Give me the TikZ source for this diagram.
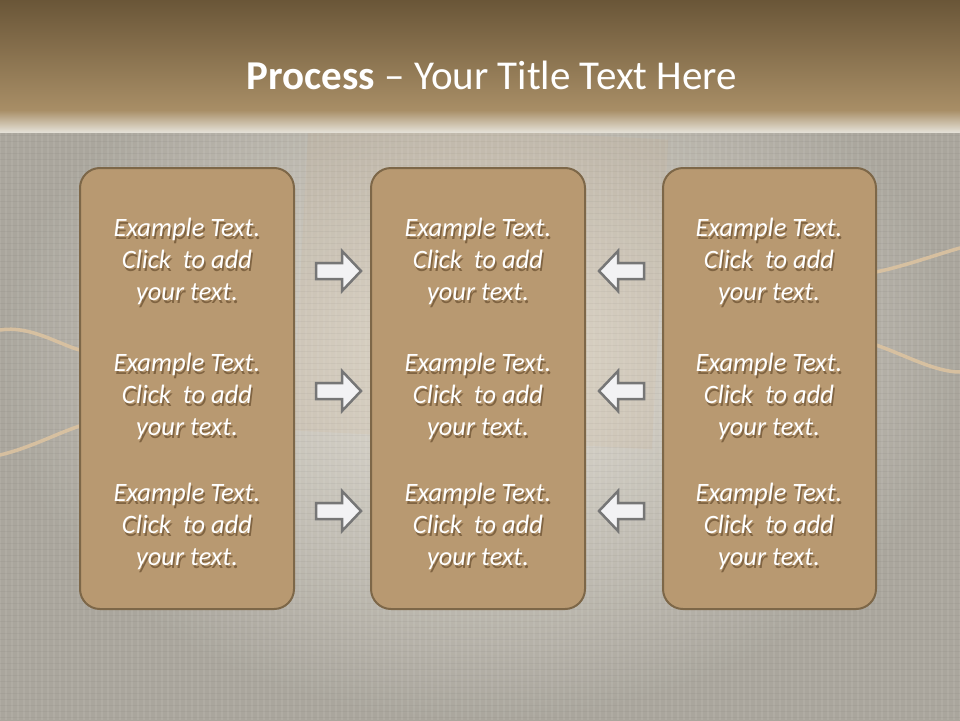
\documentclass[tikz,border=0pt]{standalone}
\usepackage{fontspec}
\setmainfont{Carlito}
\usetikzlibrary{calc}
\definecolor{bgmid}{RGB}{228,224,214}
\definecolor{bgedge}{RGB}{170,166,157}
\definecolor{hdtop}{RGB}{106,86,56}
\definecolor{hdbot}{RGB}{168,142,102}
\definecolor{boxfill}{RGB}{184,153,113}
\definecolor{boxline}{RGB}{125,103,72}
\definecolor{arrfill}{RGB}{242,242,244}
\definecolor{arrline}{RGB}{118,118,118}
\definecolor{txtshadow}{RGB}{128,100,66}
\definecolor{rope}{RGB}{222,196,160}
\tikzset{
  x=1pt,y=-1pt,
  panel/.style={draw=boxline,line width=2pt,fill=boxfill,rounded corners=20pt},
  btext/.style={text=white,font=\itshape\fontsize{26.5}{32}\selectfont,align=center,inner sep=0pt},
  arrowshape/.style={draw=arrline,line width=2.5pt,fill=arrfill,line join=miter},
  ropeline/.style={draw=rope,line width=3.5pt,opacity=0.85,line cap=round}
}
\newcommand{\shd}[1]{\rlap{\kern1.5pt\raisebox{-2.2pt}{\textcolor{txtshadow}{#1}}}#1}
\newcommand{\extext}{\shd{Example Text.}\\\shd{Click\ \ to add}\\\shd{your text.}}
\begin{document}
\begin{tikzpicture}
\useasboundingbox (0,0) rectangle (960,720);
% background
\fill[inner color=bgmid,outer color=bgedge] (0,0) rectangle (960,720);
% burlap texture
\foreach \i in {0,6,...,960} {\draw[white,opacity=0.07,line width=1.2pt] (\i,120) -- (\i,720);}
\foreach \j in {123,129,...,720} {\draw[black,opacity=0.035,line width=1pt] (0,\j) -- (960,\j);}
% middle patch
\fill[rope!60!brown,opacity=0.10,rotate around={-3:(480,290)}] (300,130) rectangle (660,440);
% ropes
\draw[ropeline] (0,330) .. controls (30,325) and (60,345) .. (80,350);
\draw[ropeline] (0,455) .. controls (30,448) and (60,432) .. (80,426);
\draw[ropeline] (876,345) .. controls (905,355) and (935,372) .. (960,372);
\draw[ropeline] (876,272) .. controls (905,266) and (935,255) .. (960,248);
% header
\shade[top color=hdtop,bottom color=hdbot] (0,0) rectangle (960,110);
\shade[top color=hdbot,bottom color=bgmid] (0,110) rectangle (960,132);
\node[text=white,font=\fontsize{41}{48}\selectfont,inner sep=0pt] (title) at (492,75) {\textbf{Process} – Your Title Text Here};
% panels
\draw[panel] (80,168) rectangle (294,609);
\draw[panel] (371,168) rectangle (585,609);
\draw[panel] (663,168) rectangle (876,609);
% texts
\foreach \cx/\c in {187/a,478/b,769/c}{
  \foreach \cy/\r in {263/1,398/2,528/3}{
    \node[btext] (t\c\r) at (\cx,\cy) {\extext};
  }
}
% arrows
\foreach \cy in {271,391,511}{
  \draw[arrowshape] (316,\cy-8) -- (342,\cy-8) -- (342,\cy-20) -- (361,\cy) -- (342,\cy+20) -- (342,\cy+8) -- (316,\cy+8) -- cycle;
  \draw[arrowshape] (644,\cy-8) -- (618,\cy-8) -- (618,\cy-20) -- (599,\cy) -- (618,\cy+20) -- (618,\cy+8) -- (644,\cy+8) -- cycle;
}
\end{tikzpicture}
\end{document}
